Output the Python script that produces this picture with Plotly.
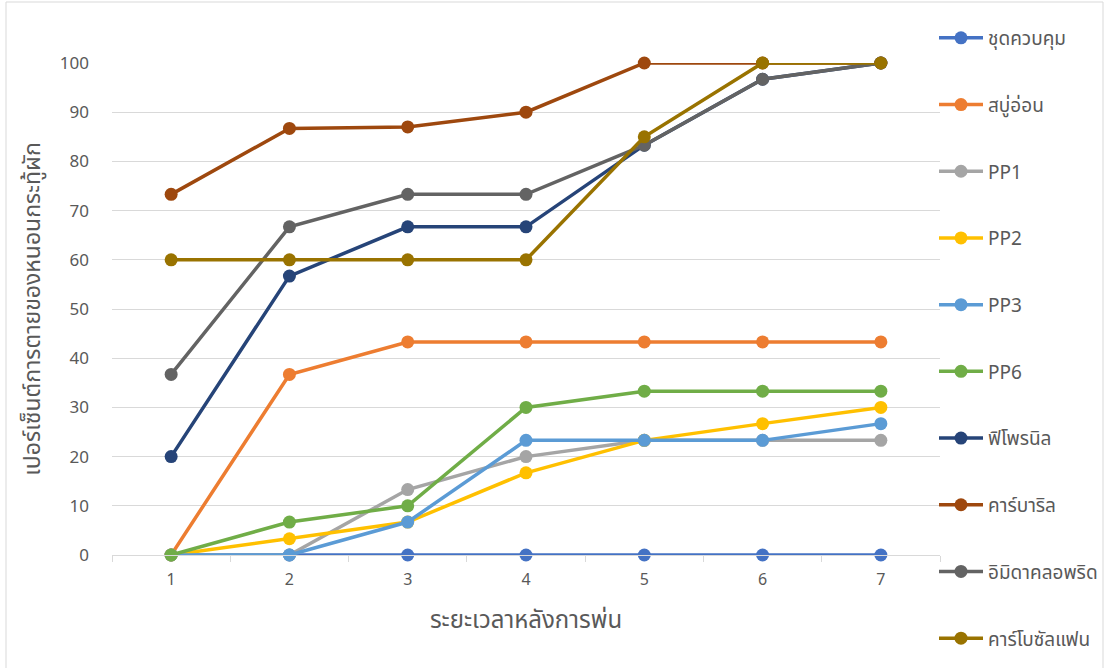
import plotly.graph_objects as go

days = ["1", "2", "3", "4", "5", "6", "7"]
series_names = ["ชุดควบคุม", "สบู่อ่อน", "PP1", "PP2", "PP3", "PP6",
                "ฟิโพรนิล", "คาร์บาริล", "อิมิดาคลอพริด", "คาร์โบซัลแฟน"]
control = [0, 0, 0, 0, 0, 0, 0]
soft_soap = [0, 36.7, 43.3, 43.3, 43.3, 43.3, 43.3]
pp1 = [0, 0, 13.3, 20, 23.3, 23.3, 23.3]
pp2 = [0, 3.3, 6.7, 16.7, 23.3, 26.7, 30]
pp3 = [0, 0, 6.7, 23.3, 23.3, 23.3, 26.7]
pp6 = [0, 6.7, 10, 30, 33.3, 33.3, 33.3]
fipronil = [20, 56.7, 66.7, 66.7, 83.3, 96.7, 100]
carbaryl = [73.3, 86.7, 87, 90, 100, 100, 100]
imidacloprid = [36.7, 66.7, 73.3, 73.3, 83.3, 96.7, 100]
carbosulfan = [60, 60, 60, 60, 85, 100, 100]
series_values = [control, soft_soap, pp1, pp2, pp3, pp6,
                 fipronil, carbaryl, imidacloprid, carbosulfan]
colors = ["#4472C4", "#ED7D31", "#A5A5A5", "#FFC000", "#5B9BD5", "#70AD47",
          "#264478", "#9E480E", "#636363", "#997300"]
y_ticks = [0, 10, 20, 30, 40, 50, 60, 70, 80, 90, 100]

FONT = "Tahoma, 'Noto Sans Thai', 'Noto Sans', sans-serif"

fig = go.Figure()
for i, (name, vals, col) in enumerate(zip(series_names, series_values, colors)):
    fig.add_trace(go.Scatter(
        x=days, y=vals, name=name, mode="lines+markers",
        line=dict(color=col, width=3.5),
        marker=dict(color=col, size=13),
        cliponaxis=False, legendgroup=str(i),
    ))

fig.update_layout(
    width=1104, height=668,
    margin=dict(l=112, r=164, t=63, b=113, autoexpand=False),
    paper_bgcolor="white", plot_bgcolor="white",
    font=dict(family=FONT, color="#595959", size=16),
    showlegend=True,
    legend=dict(x=(934 - 112) / 828, xanchor="left", y=(555 - 19) / 492, yanchor="top",
                tracegroupgap=39, font=dict(size=19, color="#595959"),
                itemwidth=44, bgcolor="rgba(0,0,0,0)", maxheight=1000),
    xaxis=dict(type="category", range=[-0.5, 6.5], showgrid=False,
               showline=True, linecolor="#D9D9D9", linewidth=1,
               ticks="outside", tickson="boundaries", ticklen=6,
               tickcolor="#D9D9D9", tickfont=dict(size=16, color="#595959"),
               ticklabelstandoff=10,
               title=dict(text="ระยะเวลาหลังการพ่น", font=dict(size=24, color="#595959"), standoff=19)),
    yaxis=dict(range=[0, 100], tickvals=y_ticks, showgrid=True,
               gridcolor="#D9D9D9", gridwidth=1, zeroline=False,
               ticks="", tickfont=dict(size=17, color="#595959"), ticklabelstandoff=22,
               title=dict(text="เปอร์เซ็นต์การตายของหนอนกระทู้ผัก", font=dict(size=23, color="#595959"), standoff=12)),
    shapes=[dict(type="rect", xref="paper", yref="paper",
                 x0=-106 / 828, x1=(1104 - 112 - 1) / 828, y0=-113 / 492 - 0.01, y1=(555 - 2) / 492,
                 line=dict(color="#D9D9D9", width=1), fillcolor="rgba(0,0,0,0)", layer="below")],
)

fig.write_html("out.html")
